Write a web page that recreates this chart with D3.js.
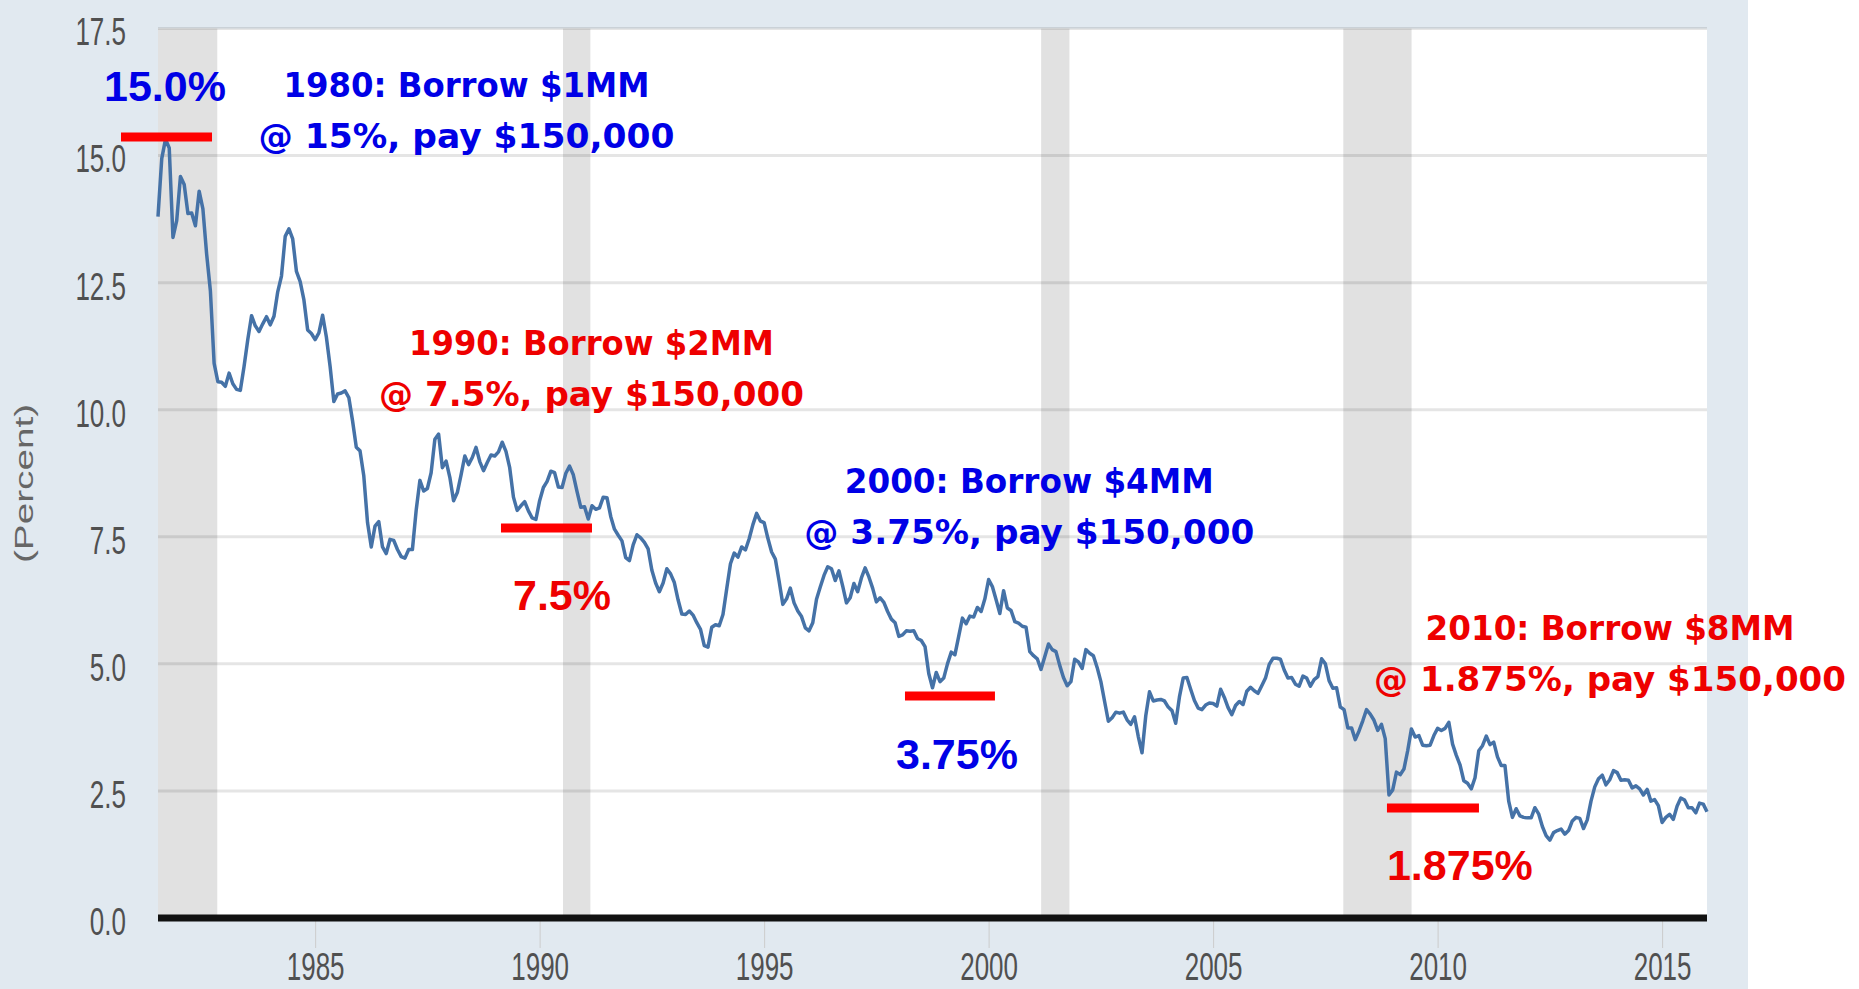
<!DOCTYPE html>
<html>
<head>
<meta charset="utf-8">
<script src="https://cdn.jsdelivr.net/npm/d3@7/dist/d3.min.js"></script>
<style>
  body { margin: 0; background: #ffffff; }
  svg { display: block; }
</style>
</head>
<body>
<div id="chart"></div>
<script>

// 10-year Treasury yield, monthly, first observation July 1981 (percent)
const firstObs = 1981.5;
const tenYearYield = [
    13.80, 14.94, 15.32, 15.15, 13.39, 13.72,                                  // 1981 (Jul-Dec)
    14.59, 14.43, 13.86, 13.87, 13.62, 14.30, 13.95, 13.06, 12.34, 10.91, 10.55, 10.54, // 1982
    10.46, 10.72, 10.51, 10.40, 10.38, 10.85, 11.38, 11.85, 11.65, 11.54, 11.69, 11.83, // 1983
    11.67, 11.84, 12.32, 12.63, 13.41, 13.56, 13.36, 12.72, 12.52, 12.16, 11.57, 11.50, // 1984
    11.38, 11.51, 11.86, 11.43, 10.85, 10.16, 10.31, 10.33, 10.37, 10.24, 9.78, 9.26,   // 1985
    9.19, 8.70, 7.78, 7.30, 7.71, 7.80, 7.30, 7.17, 7.45, 7.43, 7.25, 7.11,             // 1986
    7.08, 7.25, 7.25, 8.02, 8.61, 8.40, 8.45, 8.76, 9.42, 9.52, 8.86, 8.99,             // 1987
    8.67, 8.21, 8.37, 8.72, 9.09, 8.92, 9.06, 9.26, 8.98, 8.80, 8.96, 9.11,             // 1988
    9.09, 9.17, 9.36, 9.18, 8.86, 8.28, 8.02, 8.11, 8.19, 8.01, 7.87, 7.84,             // 1989
    8.21, 8.47, 8.59, 8.79, 8.76, 8.48, 8.47, 8.75, 8.89, 8.72, 8.39, 8.08,             // 1990
    8.09, 7.85, 8.11, 8.04, 8.07, 8.28, 8.27, 7.90, 7.65, 7.53, 7.42, 7.09,             // 1991
    7.03, 7.34, 7.54, 7.48, 7.39, 7.26, 6.84, 6.59, 6.42, 6.59, 6.87, 6.77,             // 1992
    6.60, 6.26, 5.98, 5.97, 6.04, 5.96, 5.81, 5.68, 5.36, 5.33, 5.72, 5.77,             // 1993
    5.75, 5.97, 6.48, 6.97, 7.18, 7.10, 7.30, 7.24, 7.46, 7.74, 7.96, 7.81,             // 1994
    7.78, 7.47, 7.20, 7.06, 6.63, 6.17, 6.28, 6.49, 6.20, 6.04, 5.93, 5.71,             // 1995
    5.65, 5.81, 6.27, 6.51, 6.74, 6.91, 6.87, 6.64, 6.83, 6.53, 6.20, 6.30,             // 1996
    6.58, 6.42, 6.69, 6.89, 6.71, 6.49, 6.22, 6.30, 6.21, 6.03, 5.88, 5.81,             // 1997
    5.54, 5.57, 5.65, 5.64, 5.65, 5.50, 5.46, 5.34, 4.81, 4.53, 4.83, 4.65,             // 1998
    4.72, 5.00, 5.23, 5.18, 5.54, 5.90, 5.79, 5.94, 5.92, 6.11, 6.03, 6.28,             // 1999
    6.66, 6.52, 6.26, 5.99, 6.44, 6.10, 6.05, 5.83, 5.80, 5.74, 5.72, 5.24,             // 2000
    5.16, 5.10, 4.89, 5.14, 5.39, 5.28, 5.24, 4.97, 4.73, 4.57, 4.65, 5.09,             // 2001
    5.04, 4.91, 5.28, 5.21, 5.16, 4.93, 4.65, 4.26, 3.87, 3.94, 4.05, 4.03,             // 2002
    4.05, 3.90, 3.81, 3.96, 3.57, 3.25, 3.98, 4.45, 4.27, 4.29, 4.30, 4.27,             // 2003
    4.15, 4.08, 3.83, 4.35, 4.72, 4.73, 4.50, 4.28, 4.13, 4.10, 4.19, 4.23,             // 2004
    4.22, 4.17, 4.50, 4.34, 4.14, 4.00, 4.18, 4.26, 4.20, 4.46, 4.54, 4.47,             // 2005
    4.42, 4.57, 4.72, 4.99, 5.11, 5.11, 5.09, 4.88, 4.72, 4.73, 4.60, 4.56,             // 2006
    4.76, 4.72, 4.56, 4.69, 4.75, 5.10, 5.00, 4.67, 4.52, 4.53, 4.15, 4.10,             // 2007
    3.74, 3.74, 3.51, 3.68, 3.88, 4.10, 4.01, 3.89, 3.69, 3.81, 3.53, 2.42,             // 2008
    2.52, 2.87, 2.82, 2.93, 3.29, 3.72, 3.56, 3.59, 3.40, 3.39, 3.40, 3.59,             // 2009
    3.73, 3.69, 3.73, 3.85, 3.42, 3.20, 3.01, 2.70, 2.65, 2.54, 2.76, 3.29,             // 2010
    3.39, 3.58, 3.41, 3.46, 3.17, 3.00, 3.00, 2.30, 1.98, 2.15, 2.01, 1.98,             // 2011
    1.97, 1.97, 2.17, 2.05, 1.80, 1.62, 1.53, 1.68, 1.72, 1.75, 1.65, 1.72,             // 2012
    1.91, 1.98, 1.96, 1.76, 1.93, 2.30, 2.58, 2.74, 2.81, 2.62, 2.72, 2.90,             // 2013
    2.86, 2.71, 2.72, 2.71, 2.56, 2.60, 2.54, 2.42, 2.53, 2.30, 2.33, 2.21,             // 2014
    1.88, 1.98, 2.04, 1.94, 2.20, 2.36, 2.32, 2.17, 2.17, 2.07, 2.26, 2.24,             // 2015
    2.09                                                                                 // 2016 (Jan)
];

// recession periods (decimal years)
const recessions = [[1981.5, 1982.82], [1990.52, 1991.13], [2001.17, 2001.8], [2007.9, 2009.42]];

const yTicks = [0, 2.5, 5, 7.5, 10, 12.5, 15, 17.5];
const xTicks = [1985, 1990, 1995, 2000, 2005, 2010, 2015];
const yTitle = "(Percent)";

// annotations
const noteLines = [
    ["1980: Borrow $1MM", "@ 15%, pay $150,000"],
    ["1990: Borrow $2MM", "@ 7.5%, pay $150,000"],
    ["2000: Borrow $4MM", "@ 3.75%, pay $150,000"],
    ["2010: Borrow $8MM", "@ 1.875%, pay $150,000"]
];
const noteAnchors = [[1988.37, 16.15], [1991.155, 11.08], [2000.905, 8.36], [2013.84, 5.47]];
const rateLabels = ["15.0%", "7.5%", "3.75%", "1.875%"];
const rateLabelAnchors = [[1980.297, 16.07], [1989.407, 6.059], [1997.937, 2.931], [2008.872, 0.748]];
const rateBars = [[1980.676, 1982.703, 15.365], [1989.139, 1991.166, 7.673], [1998.137, 2000.141, 4.368], [2008.872, 2010.921, 2.164]];

// ---- layout / style ----
const W = 1859, H = 989;
const plot = { left: 158, right: 1707, top: 28.5, bottom: 918 };
const noteColors = ["#0000e6", "#ee0000", "#0000e6", "#ee0000"];
const noteWidths = [[366, 416], [365, 425], [369, 450], [369, 472]];
const lineGap = 51;

const data = tenYearYield.map((v, i) => ({ t: firstObs + i / 12, v: v }));

const svg = d3.select("#chart").append("svg")
    .attr("width", W)
    .attr("height", H);

// light blue panel
svg.append("rect")
    .attr("x", 0).attr("y", 0)
    .attr("width", 1748).attr("height", H)
    .attr("fill", "#e1e9f0");

const x = d3.scaleLinear()
    .domain([firstObs, data[data.length - 1].t])
    .range([plot.left, plot.right]);

const y = d3.scaleLinear()
    .domain([0, 17.5])
    .range([plot.bottom, plot.top]);

// white plotting area
svg.append("rect")
    .attr("x", plot.left).attr("y", plot.top)
    .attr("width", plot.right - plot.left)
    .attr("height", plot.bottom - plot.top)
    .attr("fill", "#ffffff");

// recession bars
svg.selectAll(".recession")
    .data(recessions)
    .enter()
    .append("rect")
    .attr("class", "recession")
    .attr("x", d => x(d[0]))
    .attr("width", d => x(d[1]) - x(d[0]))
    .attr("y", plot.top)
    .attr("height", plot.bottom - plot.top)
    .attr("fill", "#e1e1e1");

// horizontal grid
svg.selectAll(".grid")
    .data(yTicks.filter(d => d > 0))
    .enter()
    .append("line")
    .attr("class", "grid")
    .attr("x1", plot.left)
    .attr("x2", plot.right)
    .attr("y1", d => y(d))
    .attr("y2", d => y(d))
    .attr("stroke", "rgba(0,0,0,0.1)")
    .attr("stroke-width", 3);

// the series
const line = d3.line()
    .x(d => x(d.t))
    .y(d => y(d.v));

svg.append("path")
    .datum(data)
    .attr("d", line)
    .attr("fill", "none")
    .attr("stroke", "#4572a7")
    .attr("stroke-width", 3.5)
    .attr("stroke-linejoin", "round");

// x axis
const xAxis = d3.axisBottom(x)
    .tickValues(xTicks)
    .tickFormat(d3.format("d"))
    .tickSizeInner(30)
    .tickSizeOuter(0);

const gx = svg.append("g")
    .attr("class", "x-axis")
    .attr("transform", "translate(0," + plot.bottom + ")")
    .call(xAxis);
gx.select(".domain").remove();
gx.selectAll("line").attr("stroke", "#cccccc").attr("stroke-width", 1);
gx.selectAll("text")
    .attr("y", 23)
    .attr("transform", "scale(1,1.5)")
    .attr("fill", "#505050")
    .style("font-family", "'Liberation Sans', Arial, sans-serif")
    .style("font-size", "26px");

// y axis
const yAxis = d3.axisLeft(y)
    .tickValues(yTicks)
    .tickFormat(d3.format(".1f"))
    .tickSize(0)
    .tickPadding(32);

const gy = svg.append("g")
    .attr("class", "y-axis")
    .attr("transform", "translate(" + plot.left + ",0)")
    .call(yAxis);
gy.select(".domain").remove();
gy.selectAll("text")
    .attr("dy", "0.42em")
    .attr("transform", "scale(1,1.5)")
    .attr("fill", "#505050")
    .style("font-family", "'Liberation Sans', Arial, sans-serif")
    .style("font-size", "26px");

// zero baseline
svg.append("line")
    .attr("x1", plot.left).attr("x2", plot.right)
    .attr("y1", y(0)).attr("y2", y(0))
    .attr("stroke", "#111111")
    .attr("stroke-width", 7);

// axis title
svg.append("text")
    .attr("transform", "translate(33," + y(8.55) + ") rotate(-90) scale(1.55,1)")
    .attr("text-anchor", "middle")
    .attr("fill", "#666666")
    .style("font-family", "'Liberation Sans', Arial, sans-serif")
    .style("font-size", "25px")
    .text(yTitle);

// red level bars
svg.selectAll(".level")
    .data(rateBars)
    .enter()
    .append("line")
    .attr("class", "level")
    .attr("x1", d => x(d[0]))
    .attr("x2", d => x(d[1]))
    .attr("y1", d => y(d[2]))
    .attr("y2", d => y(d[2]))
    .attr("stroke", "#ff0000")
    .attr("stroke-width", 9);

// rate labels
svg.selectAll(".rate")
    .data(rateLabels)
    .enter()
    .append("text")
    .attr("class", "rate")
    .attr("x", (d, i) => x(rateLabelAnchors[i][0]))
    .attr("y", (d, i) => y(rateLabelAnchors[i][1]))
    .attr("fill", (d, i) => noteColors[i])
    .style("font-family", "'Liberation Sans', Arial, sans-serif")
    .style("font-weight", "bold")
    .style("font-size", "43px")
    .text(d => d);

// borrow notes
noteLines.forEach((lines, i) => {
    const cx = x(noteAnchors[i][0]);
    const cy = y(noteAnchors[i][1]);
    lines.forEach((txt, k) => {
        svg.append("text")
            .attr("x", cx)
            .attr("y", cy + k * lineGap)
            .attr("text-anchor", "middle")
            .attr("textLength", noteWidths[i][k])
            .attr("lengthAdjust", "spacingAndGlyphs")
            .attr("fill", noteColors[i])
            .style("font-family", "'DejaVu Sans', sans-serif")
            .style("font-weight", "bold")
            .style("font-size", "34px")
            .text(txt);
    });
});

</script>
</body>
</html>
